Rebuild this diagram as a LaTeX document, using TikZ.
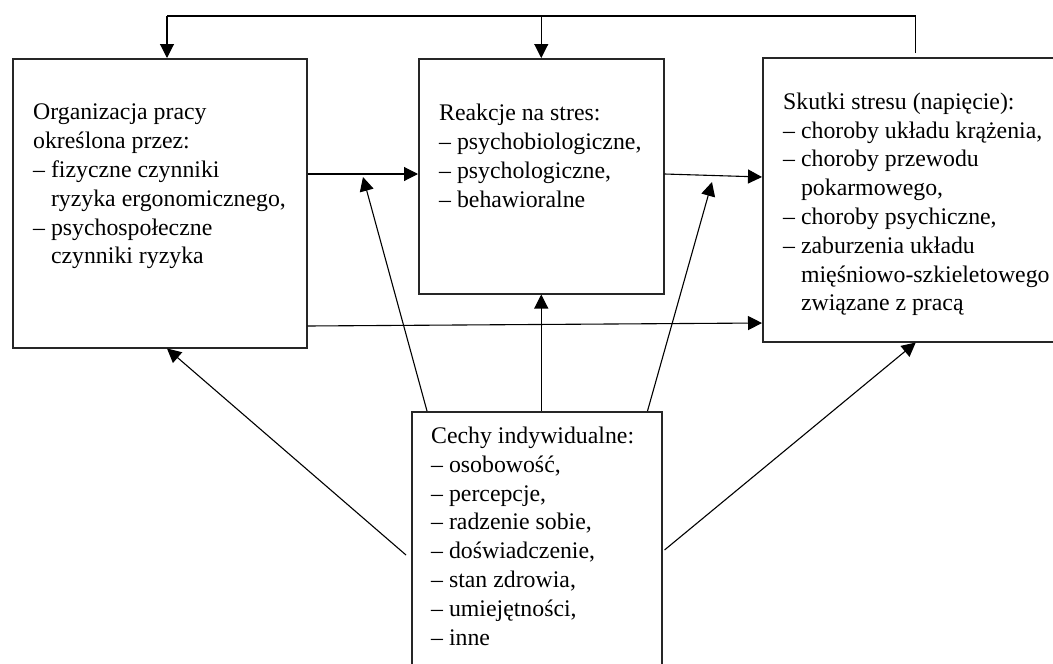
\documentclass[tikz,border=0pt]{standalone}
\usepackage{fontspec}
\setmainfont{Liberation Serif}
\usetikzlibrary{arrows.meta,positioning}

\begin{document}
\begin{tikzpicture}[x=1pt,y=-1pt]
  \tikzstyle{box} = [rectangle, draw=black!85, line width=1.5pt, anchor=north west, inner sep=0pt]
  \tikzstyle{txt} = [align=left, inner sep=0pt, font=\fontsize{23.8}{28.8}\selectfont]
  \tikzstyle{line} = [line width=1.1pt, draw]
  \tikzstyle{arrow} = [line, -{Triangle[length=14pt,width=14pt]}]
\useasboundingbox (0,0) rectangle (1053,664);
\node [box, minimum width=294pt, minimum height=289pt] (boxA) at (12,58) {};
\node [box, minimum width=245pt, minimum height=235pt] (boxB) at (418,58) {};
\node [box, minimum width=306pt, minimum height=284pt] (boxC) at (762,57) {};
\node [box, minimum width=250pt, minimum height=262pt] (boxD) at (411,411) {};
\node [txt, below right=46pt and 21pt of boxA.north west] (textA) {Organizacja pracy\\określona przez:\\– fizyczne czynniki\\\hphantom{–\ }ryzyka ergonomicznego,\\– psychospołeczne\\\hphantom{–\ }czynniki ryzyka};
\node [txt, below right=46pt and 21pt of boxB.north west] (textB) {Reakcje na stres:\\– psychobiologiczne,\\– psychologiczne,\\– behawioralne};
\node [txt, below right=35.5pt and 21pt of boxC.north west] (textC) {Skutki stresu (napięcie):\\– choroby układu krążenia,\\– choroby przewodu\\\hphantom{–\ }pokarmowego,\\– choroby psychiczne,\\– zaburzenia układu\\\hphantom{–\ }mięśniowo-szkieletowego\\\hphantom{–\ }związane z pracą};
\node [txt, below right=15.7pt and 20pt of boxD.north west] (textD) {Cechy indywidualne:\\– osobowość,\\– percepcje,\\– radzenie sobie,\\– doświadczenie,\\– stan zdrowia,\\– umiejętności,\\– inne};
\coordinate (fbL) at (167,16);
\coordinate (tipA) at (363,177);
\coordinate (tipB) at (712,182);
% feedback loop
\draw [line] ([yshift=4pt]boxC.north) -- (boxC.north |- fbL) -- (fbL);
\draw [arrow] (fbL) -- (fbL |- boxA.north);
\draw [arrow] (boxB.north |- fbL) -- (boxB.north);
% main flow
\draw [arrow] (boxA.east |- 0,174) -- (boxB.west |- 0,174);
\draw [arrow] (boxB.east |- 0,174) -- (boxC.west |- 0,177);
\draw [arrow] (boxA.east |- 0,326) -- (boxC.west |- 0,323);
% individual features
\draw [arrow] (boxD.north -| boxB.south) -- (boxB.south);
\draw [arrow] ([xshift=16pt]boxD.north west) -- (tipA);
\draw [arrow] ([xshift=-15pt]boxD.north east) -- (tipB);
\draw [arrow] ([xshift=-5pt,yshift=-144pt]boxD.north west) -- (boxA.south -| fbL);
\draw [arrow] ([xshift=2pt,yshift=-139pt]boxD.north east) -- (boxC.south);
\end{tikzpicture}
\end{document}
